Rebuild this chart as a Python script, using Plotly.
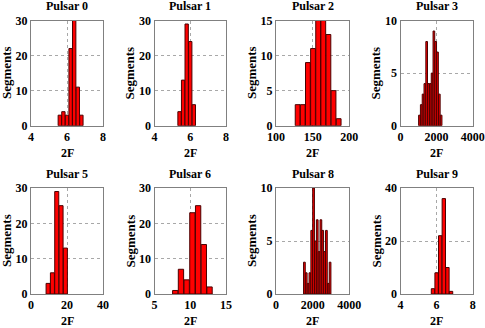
import plotly.graph_objects as go

W, H = 485, 328

# ---- data ----
titles = ["Pulsar 0", "Pulsar 1", "Pulsar 2", "Pulsar 3",
          "Pulsar 5", "Pulsar 6", "Pulsar 8", "Pulsar 9"]

p0_x = [5.6, 5.8, 6.0, 6.2, 6.4, 6.6, 6.8]
p0_y = [3, 4, 3, 22, 30, 11, 3]
p1_x = [5.4, 5.6, 5.8, 6.0, 6.2]
p1_y = [4, 13, 29, 24, 6]
p2_x = [129.5, 136.5, 143.5, 150.5, 157.5, 164.5, 171.5, 178.5, 185.5]
p2_y = [3, 3, 9, 11, 15, 15, 13, 5, 1]
p3_x = [1050, 1150, 1250, 1350, 1450, 1550, 1650, 1750, 1850, 1950, 2050, 2150, 2250]
p3_y = [1, 2, 3, 4, 8, 4, 4, 5, 9, 8, 7, 3, 1]
p5_x = [9.5, 11.9, 14.3, 16.7, 19.1]
p5_y = [3, 6, 29, 25, 13]
p6_x = [7.9, 8.7, 9.5, 10.3, 11.1, 11.9, 12.7]
p6_y = [1, 7, 4, 23, 25, 14, 2]
p8_x = [1550, 1650, 1750, 1850, 1950, 2050, 2150, 2250, 2350, 2450, 2550, 2650, 2750, 2850, 2950]
p8_y = [3, 2, 1, 2, 6, 10, 5, 7, 4, 7, 6, 4, 6, 1, 3]
p9_x = [5.8, 6.0, 6.2, 6.4, 6.6, 6.8]
p9_y = [2, 8, 22, 36, 10, 1]

series_x = [p0_x, p1_x, p2_x, p3_x, p5_x, p6_x, p8_x, p9_x]
series_y = [p0_y, p1_y, p2_y, p3_y, p5_y, p6_y, p8_y, p9_y]
bin_w = [0.2, 0.2, 7, 100, 2.4, 0.8, 100, 0.2]

x_ticks = [[4, 6, 8], [4, 6, 8], [100, 150, 200], [0, 2000, 4000],
           [0, 20, 40], [5, 10, 15], [0, 2000, 4000], [4, 6, 8]]
y_ticks = [[0, 10, 20, 30], [0, 10, 20, 30], [0, 5, 10, 15], [0, 5, 10],
           [0, 10, 20, 30], [0, 10, 20, 30], [0, 5, 10], [0, 20, 40]]

# ---- layout geometry (pixels) ----
cols = [(31, 103), (154.5, 226), (276, 349.3), (400.5, 472.7)]
rows = [(20.5, 125.7), (188, 294)]

FONT = "Liberation Serif"
fig = go.Figure()
annotations = []
layout = {}

for i in range(8):
    r, c = divmod(i, 4)
    x0, x1 = cols[c]
    y0, y1 = rows[r]
    xa = "xaxis" if i == 0 else f"xaxis{i+1}"
    ya = "yaxis" if i == 0 else f"yaxis{i+1}"
    xr = "x" if i == 0 else f"x{i+1}"
    yr = "y" if i == 0 else f"y{i+1}"
    fig.add_trace(go.Bar(
        x=series_x[i], y=series_y[i], width=bin_w[i] * 0.93,
        marker=dict(color="#ff0000", line=dict(color="#4a0000", width=1)),
        xaxis=xr, yaxis=yr, showlegend=False))
    common = dict(showline=True, mirror=True, linecolor="#808080", linewidth=1,
                  showgrid=True, gridcolor="#a8a8a8", griddash="dot", gridwidth=1,
                  zeroline=False, ticks="", automargin=False,
                  tickfont=dict(family=FONT, size=12, color="black", weight="bold"),
                  fixedrange=True)
    layout[xa] = dict(common, domain=[x0 / W, x1 / W], anchor=yr,
                      range=[x_ticks[i][0], x_ticks[i][-1]], tickvals=x_ticks[i])
    layout[ya] = dict(common, domain=[1 - y1 / H, 1 - y0 / H], anchor=xr,
                      range=[y_ticks[i][0], y_ticks[i][-1]], tickvals=y_ticks[i])
    cx = (x0 + x1) / 2
    annotations.append(dict(text=titles[i], x=cx / W, y=1 - (y0 - 14.5) / H,
                            xref="paper", yref="paper", showarrow=False,
                            xanchor="center", yanchor="middle",
                            font=dict(family=FONT, size=12, color="black", weight="bold")))
    annotations.append(dict(text="2F", x=cx / W, y=1 - (y1 + 27) / H,
                            xref="paper", yref="paper", showarrow=False,
                            xanchor="center", yanchor="middle",
                            font=dict(family=FONT, size=12, color="black", weight="bold")))
    annotations.append(dict(text="Segments", x=(x0 - 25) / W, y=1 - ((y0 + y1) / 2) / H,
                            xref="paper", yref="paper", showarrow=False, textangle=-90,
                            xanchor="center", yanchor="middle",
                            font=dict(family=FONT, size=13, color="black", weight="bold")))

fig.update_layout(**layout)
fig.update_layout(template="none", width=W, height=H,
                  margin=dict(l=0, r=0, t=0, b=0, pad=0, autoexpand=False),
                  paper_bgcolor="white", plot_bgcolor="white",
                  barmode="overlay", annotations=annotations)
fig.write_html("out.html", config={"displayModeBar": False},
               post_script="document.body.style.margin='0';document.body.style.overflow='hidden';")
